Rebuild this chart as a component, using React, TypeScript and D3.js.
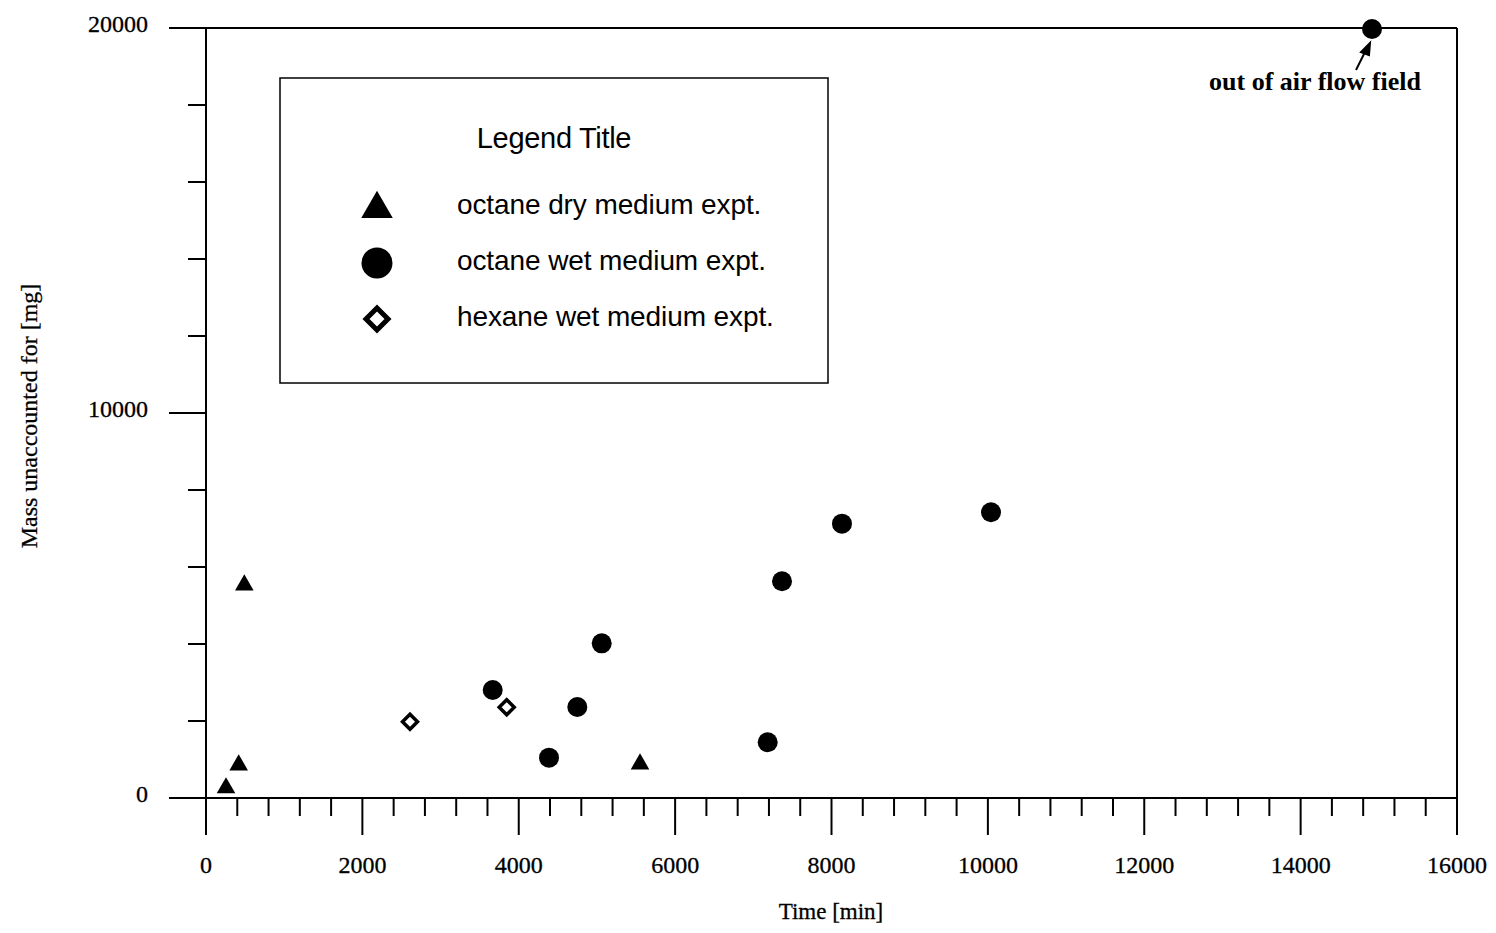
import React from "react";
import * as d3 from "d3";

const xTickLabels = [0, 2000, 4000, 6000, 8000, 10000, 12000, 14000, 16000];
const yTickLabels = [0, 10000, 20000];

const dryTime = [256, 418, 490, 5551];
const dryMass = [260, 857, 5532, 883];

const wetTime = [3667, 4387, 4749, 5061, 7184, 7367, 8134, 10040, 14913];
const wetMass = [2805, 1047, 2364, 4018, 1447, 5629, 7125, 7421, 19974];

const hexTime = [2609, 3846];
const hexMass = [1982, 2356];

const legendLabels = [
  "octane dry medium expt.",
  "octane wet medium expt.",
  "hexane wet medium expt.",
];

const W = 1496;
const H = 933;

export default function App() {
  const x = d3.scaleLinear().domain([0, 16000]).range([206, 1457]);
  const y = d3.scaleLinear().domain([0, 20000]).range([798, 28]);

  const xMinor = d3.range(0, 16001, 400);
  const yMinor = d3.range(0, 20001, 2000);

  const tri = d3.symbol().type(d3.symbolTriangle).size(150)() as string;
  const triL = d3.symbol().type(d3.symbolTriangle).size(430)() as string;
  const diamond = "M0,-7.5L7.5,0L0,7.5L-7.5,0Z";
  const diamondL = "M0,-11L11,0L0,11L-11,0Z";

  const serif = "'Liberation Serif', 'Times New Roman', serif";
  const sans = "'Liberation Sans', Arial, sans-serif";

  const x0 = x(0), x1 = x(16000), y0 = y(0), y1 = y(20000);

  return (
    <svg
      width={W}
      height={H}
      style={{ position: "absolute", left: 0, top: 0, background: "#fff" }}
    >
      <rect x={0} y={0} width={W} height={H} fill="#fff" />
      <g stroke="#000" strokeWidth={2} fill="none">
        {/* frame */}
        <line x1={x0} y1={y0} x2={x1} y2={y0} />
        <line x1={x0} y1={y1} x2={x1} y2={y1} />
        <line x1={x0} y1={y1} x2={x0} y2={y0} />
        <line x1={x1} y1={y1} x2={x1} y2={y0} />
        {/* x ticks */}
        {xMinor.map((v) => {
          const major = v % 2000 === 0;
          return (
            <line key={"xt" + v} x1={x(v)} x2={x(v)} y1={y0} y2={y0 + (major ? 37 : 18)} />
          );
        })}
        {/* y ticks */}
        {yMinor.map((v) => {
          const major = v % 10000 === 0;
          return (
            <line key={"yt" + v} x1={x0 - (major ? 37 : 18)} x2={x0} y1={y(v)} y2={y(v)} />
          );
        })}
      </g>

      {/* tick labels */}
      <g fontFamily={serif} fontSize={24} fill="#000" stroke="#000" strokeWidth={0.3}>
        {xTickLabels.map((v) => (
          <text key={"xl" + v} x={x(v)} y={873} textAnchor="middle">
            {v}
          </text>
        ))}
        {yTickLabels.map((v) => (
          <text key={"yl" + v} x={148} y={y(v) + 4} textAnchor="end">
            {v}
          </text>
        ))}
      </g>

      {/* axis titles */}
      <g fontFamily={serif} fill="#000" stroke="#000" strokeWidth={0.3}>
        <text x={831} y={919} textAnchor="middle" fontSize={23}>
          Time [min]
        </text>
        <text
          transform={`translate(37,${416}) rotate(-90)`}
          textAnchor="middle"
          fontSize={24}
        >
          Mass unaccounted for [mg]
        </text>
      </g>

      {/* data */}
      <g fill="#000">
        {dryTime.map((t, i) => (
          <path key={"d" + i} d={tri} transform={`translate(${x(t)},${y(dryMass[i])})`} />
        ))}
        {wetTime.map((t, i) => (
          <circle key={"w" + i} cx={x(t)} cy={y(wetMass[i])} r={10} />
        ))}
      </g>
      <g fill="#fff" stroke="#000" strokeWidth={3.5}>
        {hexTime.map((t, i) => (
          <path key={"h" + i} d={diamond} transform={`translate(${x(t)},${y(hexMass[i])})`} />
        ))}
      </g>

      {/* annotation */}
      <text x={1315} y={90} textAnchor="middle" fontFamily={serif} fontSize={26} fontWeight="bold">
        out of air flow field
      </text>
      <g stroke="#000" strokeWidth={2} fill="#000">
        <line x1={1356} y1={70} x2={1366} y2={50} />
        <path d="M1370,43 L1361,52 L1369,55 Z" />
      </g>

      {/* legend */}
      <rect x={280} y={78} width={548} height={305} fill="#fff" stroke="#000" strokeWidth={1.5} />
      <text x={554} y={148} textAnchor="middle" fontFamily={sans} fontSize={29} letterSpacing={-0.3}>
        Legend Title
      </text>
      <g fontFamily={sans} fontSize={28} letterSpacing={-0.1}>
        {legendLabels.map((l, i) => (
          <text key={"ll" + i} x={457} y={214 + i * 56}>
            {l}
          </text>
        ))}
      </g>
      <path d={triL} transform="translate(377,209)" fill="#000" />
      <circle cx={377} cy={263} r={15.5} fill="#000" />
      <path d={diamondL} transform="translate(377,319)" fill="#fff" stroke="#000" strokeWidth={5} />
    </svg>
  );
}
